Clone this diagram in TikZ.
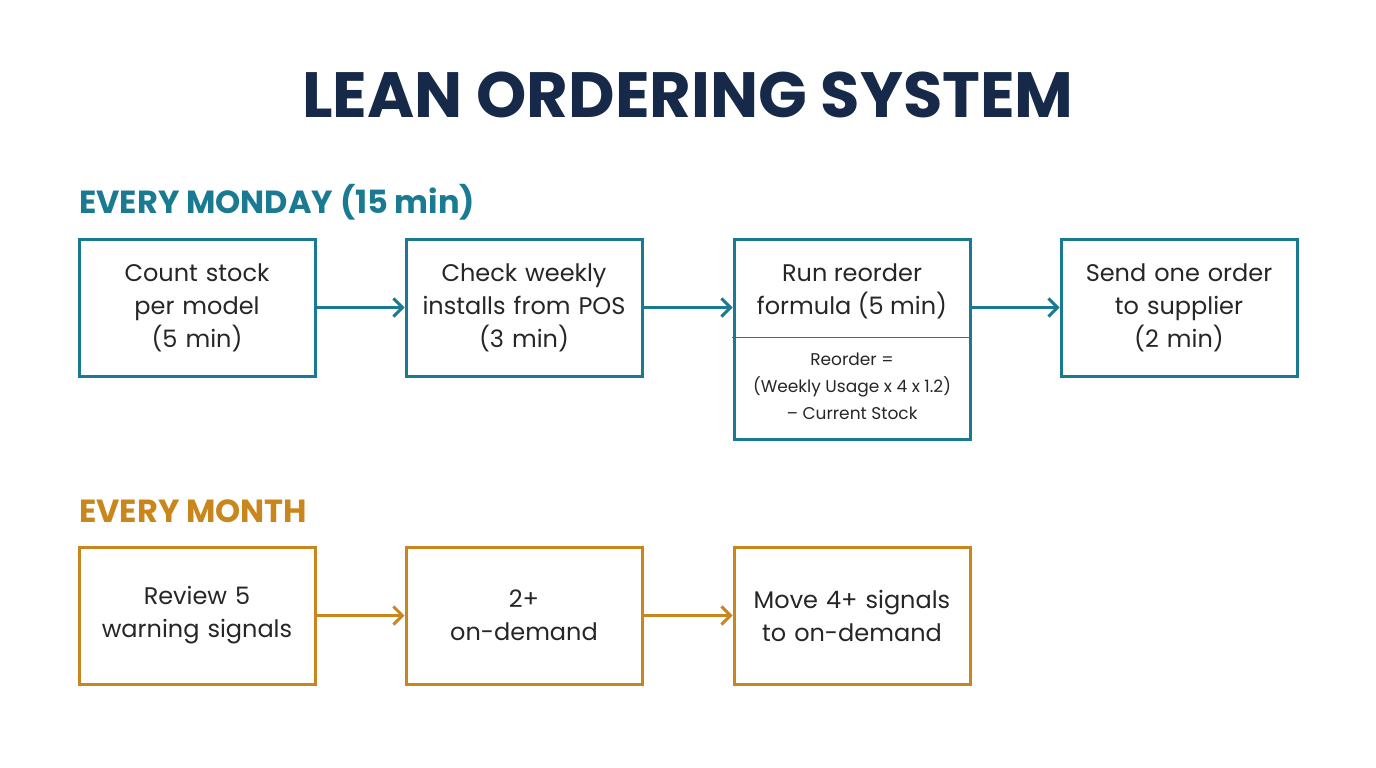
\documentclass[tikz,border=0pt]{standalone}
\usepackage{fontspec}
\setmainfont{Poppins}
\usetikzlibrary{arrows.meta,positioning}
\definecolor{custcol_navy}{RGB}{22, 41, 72}
\definecolor{custcol_teal}{RGB}{26, 122, 145}
\definecolor{custcol_gold}{RGB}{200, 134, 28}
\tikzset{
  stepbox/.style={draw=#1, line width=3pt, fill=white, minimum width=236pt, minimum height=137pt,
    align=center, text width=220pt, font=\fontsize{24pt}{33pt}\selectfont, text=black!85},
  flow/.style={line width=3pt, -{Straight Barb[length=9pt,width=18pt,line width=3pt]}},
  head/.style={anchor=base west, inner sep=0, font=\fontsize{32pt}{32pt}\bfseries\selectfont}
}
\begin{document}
\begin{tikzpicture}[x=1pt,y=-1pt,line cap=rect]
  \useasboundingbox (0,0) rectangle (1376,768);
  \node[inner sep=0, anchor=base, custcol_navy, font=\fontsize{64pt}{64pt}\bfseries\selectfont] (title) at (688,117) {LEAN ORDERING SYSTEM};
  % weekly row
  \node[head, custcol_teal] (weekly) at (79,213) {EVERY MONDAY (15 min)};
  \node[stepbox=custcol_teal] (count) at (197,307.5) {Count stock\\per model\\(5 min)};
  \node[stepbox=custcol_teal] (check) at (524,307.5) {Check weekly\\installs from POS\\(3 min)};
  \node[draw=custcol_teal, line width=3pt, minimum width=236pt, minimum height=200pt] (runbox) at (852,339) {};
  \node[align=center, font=\fontsize{24pt}{33pt}\selectfont, text=black!85] (run) at (852,291) {Run reorder\\formula (5 min)};
  \draw[custcol_teal, line width=1pt] (runbox.west |- 0,337) coordinate (divl) -- (runbox.east |- 0,337) coordinate (divr);
  \node[align=center, font=\fontsize{17pt}{27pt}\selectfont, text=black!85] (formula) at (852,386) {Reorder =\\(Weekly Usage x 4 x 1.2)\\– Current Stock};
  \node[stepbox=custcol_teal] (send) at (1179,307.5) {Send one order\\to supplier\\(2 min)};
  \draw[flow, custcol_teal] (count) -- (check);
  \draw[flow, custcol_teal] (check) -- (runbox.west |- check);
  \draw[flow, custcol_teal] (runbox.east |- send) -- (send);
  % monthly row
  \node[head, custcol_gold] (monthly) at (79,522) {EVERY MONTH};
  \node[stepbox=custcol_gold] (review) at (197,615.5) {Review 5\\warning signals};
  \node[stepbox=custcol_gold] (demand) at (524,615.5) {2+\\on-demand};
  \node[stepbox=custcol_gold] (move) at (852,615.5) {Move 4+ signals\\to on-demand};
  \draw[flow, custcol_gold] (review) -- (demand);
  \draw[flow, custcol_gold] (demand) -- (move);
\end{tikzpicture}
\end{document}
